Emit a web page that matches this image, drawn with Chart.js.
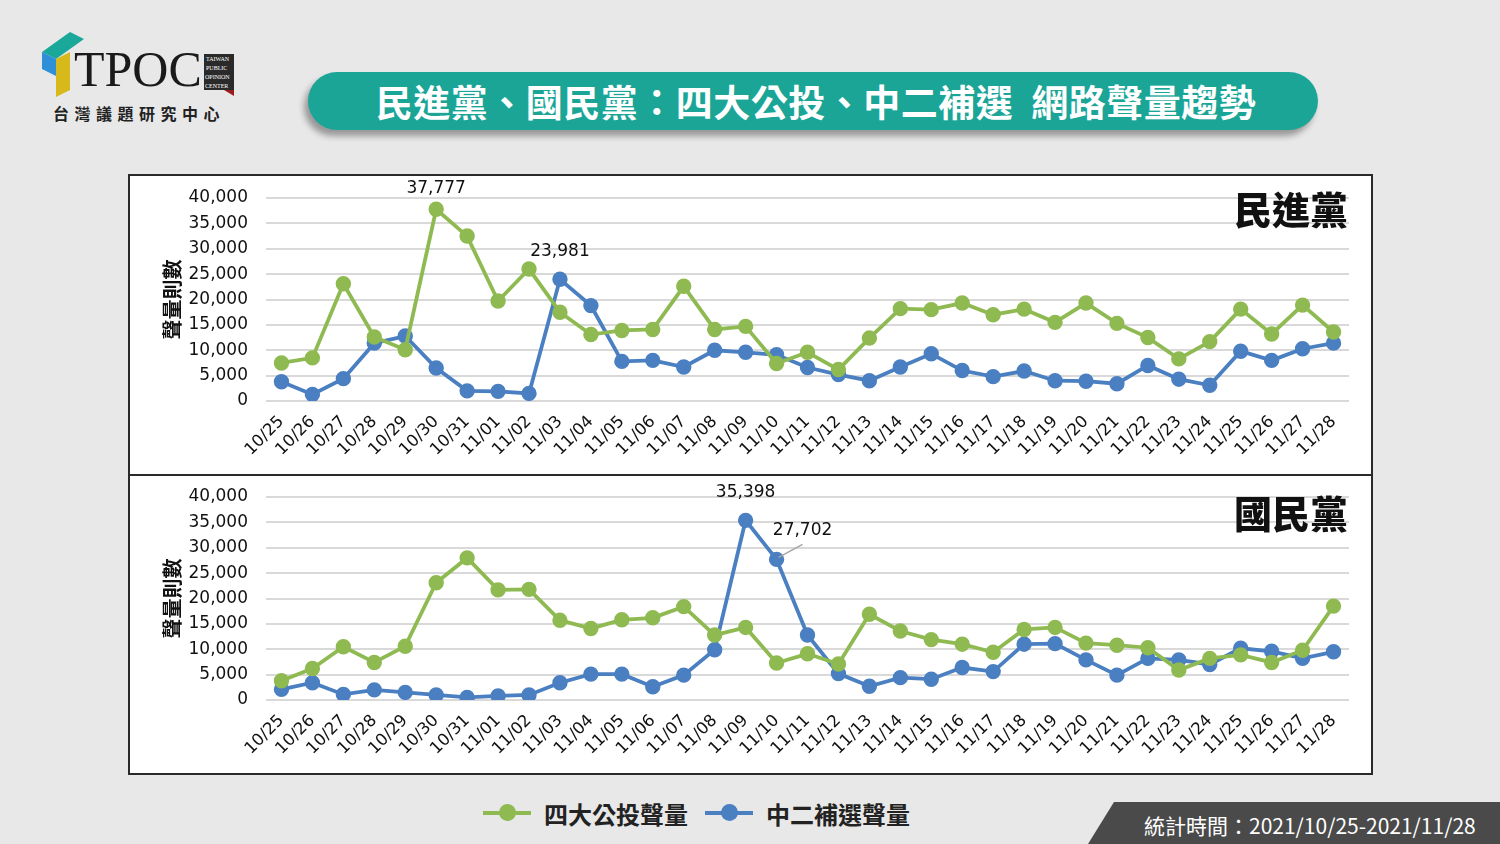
<!DOCTYPE html>
<html><head><meta charset="utf-8">
<script src="https://cdn.jsdelivr.net/npm/chart.js@4.4.0/dist/chart.umd.min.js"></script>
<style>
html,body{margin:0;padding:0;}
body{width:1500px;height:844px;background:#e8e8e8;position:relative;overflow:hidden;font-family:"Noto Sans CJK TC","Noto Sans",sans-serif;}
.abs{position:absolute;}
#pill{left:308px;top:72px;width:1010px;height:58px;border-radius:29px;background:#1ba597;box-shadow:-4px 6px 6px rgba(0,0,0,0.35);color:#fff;font-weight:700;font-size:37px;line-height:58px;text-align:center;letter-spacing:0.5px;padding-left:6px;box-sizing:border-box;}
.box{left:128px;width:1241px;background:#fff;border:2px solid #2a2a2a;}
.party{font-weight:900;font-size:38px;color:#111;font-family:"Noto Sans CJK TC",sans-serif;line-height:44px;}
#legend{left:483px;top:796px;height:34px;display:flex;align-items:center;font-weight:700;font-size:24px;color:#222;}
.lg{display:flex;align-items:center;margin-right:17px;}
.sw{position:relative;width:48px;height:4px;margin-right:13px;}
.sw i{position:absolute;left:16px;top:-7px;width:17px;height:17px;border-radius:50%;}
#foot{left:1088px;top:802px;width:412px;height:42px;background:#4a4a4a;clip-path:polygon(26px 0,100% 0,100% 100%,0 100%);color:#fff;font-size:21px;line-height:46px;padding-left:56px;box-sizing:border-box;font-family:"Noto Sans CJK TC",sans-serif;}
</style></head>
<body>
<!-- logo -->
<svg class="abs" style="left:40px;top:30px" width="200" height="70" viewBox="0 0 200 70">
  <polygon points="2,22 30,2 44,9 16,29" fill="#1aa89a"/>
  <polygon points="2,22 16,29 16,46 2,39" fill="#2f8fd8"/>
  <polygon points="16,29 30,22 30,60 16,67" fill="#d8b91c"/>
  <text x="34" y="56" font-family="Liberation Serif, serif" font-size="50" fill="#1a1a1a">TPOC</text>
  <rect x="164" y="24" width="30" height="36" fill="#2a2a2a"/>
  <polygon points="184,60 194,60 194,66" fill="#9a1c1c"/>
  <text x="166" y="31" font-family="Liberation Serif, serif" font-size="6" fill="#fff">TAIWAN</text>
  <text x="166" y="40" font-family="Liberation Serif, serif" font-size="6" fill="#fff">PUBLIC</text>
  <text x="165" y="49" font-family="Liberation Serif, serif" font-size="6" fill="#fff">OPINION</text>
  <text x="165" y="58" font-family="Liberation Serif, serif" font-size="6" fill="#fff">CENTER</text>
</svg>
<div class="abs" style="left:53px;top:101px;font-size:16px;font-weight:700;letter-spacing:5.5px;color:#222;">台灣議題研究中心</div>
<div id="pill" class="abs">民進黨、國民黨：四大公投、中二補選&nbsp;&nbsp;網路聲量趨勢</div>

<div class="abs box" style="top:174px;height:298px;"><canvas id="c1" width="1241" height="298"></canvas></div>
<div class="abs box" style="top:474px;height:297px;"><canvas id="c2" width="1241" height="297"></canvas></div>
<div class="abs party" style="left:1234px;top:186px;">民進黨</div>
<div class="abs party" style="left:1234px;top:490px;">國民黨</div>

<div id="legend" class="abs">
  <div class="lg"><div class="sw" style="background:#8fba52"><i style="background:#8fba52"></i></div>四大公投聲量</div>
  <div class="lg"><div class="sw" style="background:#4a7fc1"><i style="background:#4a7fc1"></i></div>中二補選聲量</div>
</div>
<div id="foot" class="abs">統計時間：2021/10/25-2021/11/28</div>

<script>
const dates = ["10/25","10/26","10/27","10/28","10/29","10/30","10/31","11/01","11/02","11/03","11/04","11/05","11/06","11/07","11/08","11/09","11/10","11/11","11/12","11/13","11/14","11/15","11/16","11/17","11/18","11/19","11/20","11/21","11/22","11/23","11/24","11/25","11/26","11/27","11/28"];
const dppReferendum = [7500,8500,23100,12600,10100,37777,32500,19700,26000,17500,13100,13900,14100,22600,14100,14700,7400,9600,6200,12400,18200,18000,19300,17000,18100,15500,19300,15300,12500,8300,11700,18100,13200,18900,13600];
const dppByElection = [3800,1300,4400,11400,12800,6500,2000,1900,1500,23981,18800,7800,8000,6700,10000,9600,9100,6600,5200,4000,6700,9300,6000,4800,5900,4000,3900,3400,7000,4300,3100,9800,8000,10300,11400];
const kmtReferendum = [3800,6200,10500,7400,10600,23100,28000,21700,21800,15700,14100,15800,16200,18400,12800,14300,7300,9100,7100,16900,13600,11900,11000,9400,13900,14300,11200,10800,10300,5900,8200,8900,7400,9800,18500];
const kmtByElection = [2100,3400,1100,2000,1500,1000,500,800,1000,3400,5100,5100,2600,4900,9900,35398,27702,12800,5200,2700,4400,4100,6400,5600,11000,11100,7900,4900,8200,7900,7000,10200,9600,8200,9500];
const yTicks = [0,5000,10000,15000,20000,25000,30000,35000,40000];
const yTitle = "聲量則數";
const seriesNames = ["四大公投聲量","中二補選聲量"];
const dppCallouts = [{ds:0, idx:5, text:"37,777", dx:0, dy:-21},{ds:1, idx:9, text:"23,981", dx:0, dy:-28}];
const kmtCallouts = [{ds:1, idx:15, text:"35,398", dx:0, dy:-28},{ds:1, idx:16, text:"27,702", dx:26, dy:-29, leader:true}];

const GREEN = "#8fba52", BLUE = "#4a7fc1";

const calloutPlugin = {
  id: "callouts",
  afterDatasetsDraw(chart, args, opts) {
    const ctx = chart.ctx;
    ctx.save();
    ctx.font = "17px 'DejaVu Sans', sans-serif";
    ctx.fillStyle = "#111";
    ctx.textAlign = "center";
    ctx.textBaseline = "middle";
    (opts.items || []).forEach(c => {
      const ds = chart.data.datasets[c.ds];
      const x = chart.scales.x.getPixelForValue(c.idx);
      const y = chart.scales.y.getPixelForValue(ds.data[c.idx]);
      if (c.leader) {
        ctx.strokeStyle = "#a6a6a6";
        ctx.lineWidth = 1.5;
        ctx.beginPath();
        ctx.moveTo(x + 2, y - 2);
        ctx.lineTo(x + 26, y - 15);
        ctx.stroke();
      }
      ctx.fillText(c.text, x + c.dx, y + c.dy);
    });
    ctx.restore();
  }
};

function makeChart(id, refData, byData, callouts, topPad) {
  return new Chart(document.getElementById(id), {
    type: "line",
    data: {
      labels: dates,
      datasets: [
        {label: seriesNames[0], data: refData, borderColor: GREEN, backgroundColor: GREEN, pointBackgroundColor: GREEN, pointBorderColor: GREEN, borderWidth: 3.8, pointRadius: 5.8, tension: 0},
        {label: seriesNames[1], data: byData, borderColor: BLUE, backgroundColor: BLUE, pointBackgroundColor: BLUE, pointBorderColor: BLUE, borderWidth: 3.8, pointRadius: 5.8, tension: 0}
      ]
    },
    options: {
      responsive: false,
      animation: false,
      devicePixelRatio: 1,
      layout: {autoPadding: false, padding: {top: topPad, right: 22, left: 30, bottom: 0}},
      plugins: {legend: {display: false}, tooltip: {enabled: false}, callouts: {items: callouts}},
      scales: {
        x: {
          offset: true,
          grid: {display: false},
          border: {display: false},
          ticks: {autoSkip: false, minRotation: 45, maxRotation: 45, color: "#111", font: {size: 16.5, family: "'DejaVu Sans', sans-serif"}, padding: 3},
          afterFit: s => { s.height = 73; }
        },
        y: {
          min: 0, max: 40000,
          afterBuildTicks: s => { s.ticks = yTicks.map(v => ({value: v})); },
          grid: {color: "#d9d9d9", lineWidth: 2, drawTicks: true, tickLength: 14, tickColor: "rgba(0,0,0,0)"},
          border: {display: false},
          ticks: {color: "#111", font: {size: 17, family: "'DejaVu Sans', sans-serif"}, padding: 4,
                  callback: v => v.toLocaleString("en-US")},
          title: {display: true, text: yTitle, color: "#111", font: {size: 20, weight: "bold", family: "'Noto Sans CJK TC', sans-serif"}, padding: 0},
          afterFit: s => { s.width = 106; }
        }
      }
    },
    plugins: [calloutPlugin]
  });
}
makeChart("c1", dppReferendum, dppByElection, dppCallouts, 22);
makeChart("c2", kmtReferendum, kmtByElection, kmtCallouts, 21);
</script>
</body></html>
